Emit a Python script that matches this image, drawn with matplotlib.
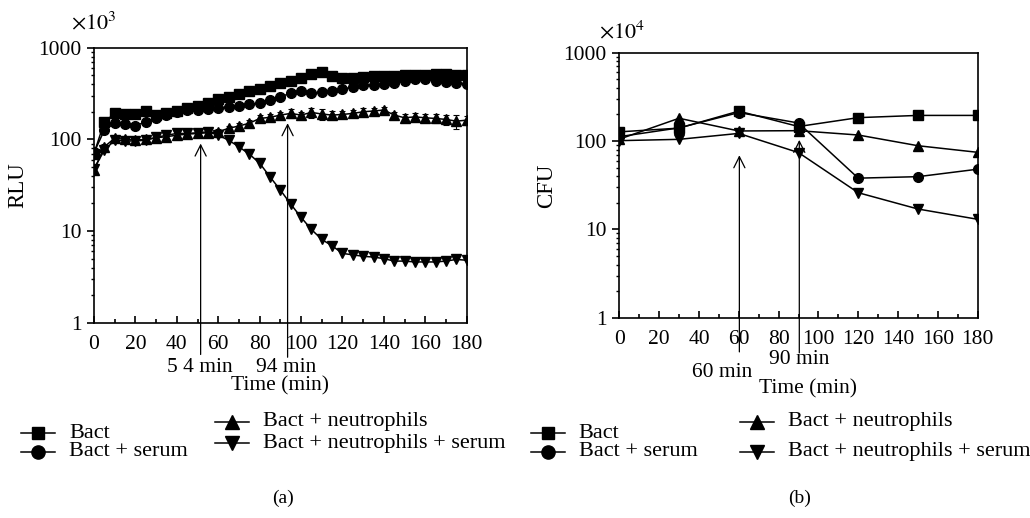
import matplotlib
matplotlib.use("Agg")
import matplotlib.pyplot as plt
from matplotlib.lines import Line2D
from matplotlib.ticker import FixedLocator, FixedFormatter, MultipleLocator, LogLocator, NullFormatter

plt.rcParams['font.family'] = ['Liberation Serif', 'DejaVu Serif']
plt.rcParams['mathtext.fontset'] = 'stix'

# ---- panel (a): luminescence, every 5 min ----
t_rlu = list(range(0, 185, 5))
rlu_bact = [70, 155, 192, 190, 190, 204, 185, 192, 205, 218, 231, 247, 273, 287, 310, 337, 357, 381, 408,
            433, 463, 512, 547, 490, 463, 463, 482, 490, 490, 490, 500, 508, 508, 516, 516, 508, 500]
rlu_serum = [72, 126, 150, 146, 141, 155, 169, 185, 197, 209, 209, 214, 218, 227, 233, 241, 247, 269, 292,
             318, 339, 318, 331, 337, 351, 375, 390, 390, 398, 415, 433, 450, 450, 437, 425, 415, 401]
rlu_neut = [46, 83, 103, 100, 98, 100, 104, 107, 111, 114, 116, 118, 121, 132, 140, 150, 169, 174, 184,
            192, 184, 197, 189, 184, 187, 192, 200, 204, 209, 184, 172, 176, 172, 169, 165, 158, 162]
rlu_neut_err = [3, 5, 6, 6, 6, 6, 6, 6, 7, 7, 7, 7, 8, 9, 10, 12, 14, 15, 16,
                20, 16, 24, 28, 18, 16, 16, 18, 18, 18, 16, 16, 18, 18, 18, 20, 28, 20]
rlu_neut_serum = [48, 76, 98, 96, 96, 98, 105, 111, 116, 116, 118, 121, 111, 98, 83, 69, 55, 39, 28,
                  19.7, 14.1, 10.4, 8.1, 6.9, 5.7, 5.5, 5.3, 5.2, 5.0, 4.7, 4.7, 4.6, 4.6, 4.6, 4.7, 4.9, 4.8]

# ---- panel (b): colony counts ----
t_cfu = [0, 30, 60, 90, 120, 150, 180]
cfu_bact = [127, 140, 218, 146, 184, 195, 195]
cfu_serum = [112, 141, 210, 160, 38, 39.5, 48]
cfu_neut = [105, 181, 130, 131, 117, 88.5, 74.5]
cfu_neut_serum = [101, 104.5, 122, 74, 26, 17, 13]

labels = ['Bact', 'Bact + serum', 'Bact + neutrophils', 'Bact + neutrophils + serum']
markers = ['s', 'o', '^', 'v']

W, H = 1030, 518
fig = plt.figure(figsize=(W / 100, H / 100), dpi=100)


def px(x0, y0, x1, y1):
    return [x0 / W, 1 - y1 / H, (x1 - x0) / W, (y1 - y0) / H]


def style_axes(ax):
    ax.set_yscale('log')
    ax.set_xlim(0, 180)
    ax.set_ylim(1, 1000)
    ax.xaxis.set_major_locator(MultipleLocator(20))
    ax.xaxis.set_minor_locator(MultipleLocator(10))
    ax.yaxis.set_major_locator(FixedLocator([1, 10, 100, 1000]))
    ax.yaxis.set_major_formatter(FixedFormatter(['1', '10', '100', '1000']))
    ax.yaxis.set_minor_locator(LogLocator(base=10, subs=range(2, 10)))
    ax.yaxis.set_minor_formatter(NullFormatter())
    ax.tick_params(axis='x', which='both', direction='in', labelsize=15.5, pad=9)
    ax.tick_params(axis='x', which='major', length=5, width=1.2)
    ax.tick_params(axis='x', which='minor', length=3, width=1.2)
    ax.tick_params(axis='y', which='both', direction='out', labelsize=15.5, pad=4)
    ax.tick_params(axis='y', which='major', length=5, width=1.2)
    ax.tick_params(axis='y', which='minor', length=2.5, width=1)
    for s in ax.spines.values():
        s.set_linewidth(1.2)


def arrow(ax, x, top, bottom):
    ax.annotate('', xy=(x, top), xytext=(x, bottom), xycoords='data', textcoords='data',
                annotation_clip=False,
                arrowprops=dict(arrowstyle='->', lw=0.9, color='black',
                                mutation_scale=20, shrinkA=0, shrinkB=0))


def legend(x_cols, ys, text_dx, ms):
    for i in range(4):
        col = i // 2
        xm = x_cols[col]
        y = ys[i]
        fig.add_artist(Line2D([(xm - 17) / W, (xm + 17) / W], [1 - y / H, 1 - y / H],
                              color='black', lw=1.1))
        fig.add_artist(Line2D([xm / W], [1 - y / H], marker=markers[i], color='black',
                              markersize=ms[i], linestyle='none'))
        fig.text((xm + text_dx) / W, 1 - y / H, labels[i], fontsize=16, va='center', ha='left')


# ---------- (a) ----------
ax1 = fig.add_axes(px(94, 47.7, 466.7, 322.7))
style_axes(ax1)
series_a = [rlu_bact, rlu_serum, rlu_neut, rlu_neut_serum]
for i, vals in enumerate(series_a):
    if i == 2:
        ax1.errorbar(t_rlu, vals, yerr=rlu_neut_err, color='black', marker=markers[i], markersize=7.5,
                     lw=1.1, elinewidth=0.8, capsize=2.5, capthick=0.8)
    else:
        ax1.plot(t_rlu, vals, color='black', marker=markers[i], markersize=7 if i != 3 else 7.5, lw=1.1)
arrow(ax1, 51.5, 90, 0.45)
arrow(ax1, 93.5, 150, 0.42)
ax1.text(51.2, 10 ** ((322.7 - 368) / 91.7), '5 4 min', ha='center', va='center', fontsize=15.5)
ax1.text(92.7, 10 ** ((322.7 - 368) / 91.7), '94 min', ha='center', va='center', fontsize=15.5)
ax1.text(0.5, -0.23, 'Time (min)', ha='center', va='center', fontsize=15.5, transform=ax1.transAxes)
ax1.text(0.0, 1.09, r'$\times 10^{3}$', ha='center', va='center', fontsize=16, transform=ax1.transAxes)
fig.text(18 / W, 1 - 185 / H, 'RLU', rotation=90, ha='center', va='center', fontsize=16.5)

# ---------- (b) ----------
ax2 = fig.add_axes(px(619.3, 52.7, 977.7, 317.7))
style_axes(ax2)
series_b = [cfu_bact, cfu_serum, cfu_neut, cfu_neut_serum]
for i, vals in enumerate(series_b):
    ax2.plot(t_cfu, vals, color='black', marker=markers[i], markersize=7, lw=1.1)
arrow(ax2, 60.3, 69, 0.41)
arrow(ax2, 90.4, 103, 0.40)
ax2.text(51.7, 10 ** ((317.7 - 372) / 88.3), '60 min', ha='center', va='center', fontsize=15.5)
ax2.text(90.3, 10 ** ((317.7 - 359) / 88.3), '90 min', ha='center', va='center', fontsize=15.5)
ax2.text(0.5265, -0.267, 'Time (min)', ha='center', va='center', fontsize=15.5, transform=ax2.transAxes)
ax2.text(0.007, 1.079, r'$\times 10^{4}$', ha='center', va='center', fontsize=16, transform=ax2.transAxes)
fig.text(546.7 / W, 1 - 186 / H, 'CFU', rotation=90, ha='center', va='center', fontsize=16.5)

# legends
legend([38, 231.7], [433, 451.7, 421.7, 443.3], 31, [8.5, 9.5, 9.5, 9.5])
legend([547.7, 756.7], [433, 451.7, 421.7, 451.7], 31, [8.5, 9.5, 9.5, 9.5])

fig.text(283 / W, 1 - 498 / H, '(a)', ha='center', va='center', fontsize=14)
fig.text(800 / W, 1 - 498 / H, '(b)', ha='center', va='center', fontsize=14)

fig.savefig('out.png', dpi=100)
